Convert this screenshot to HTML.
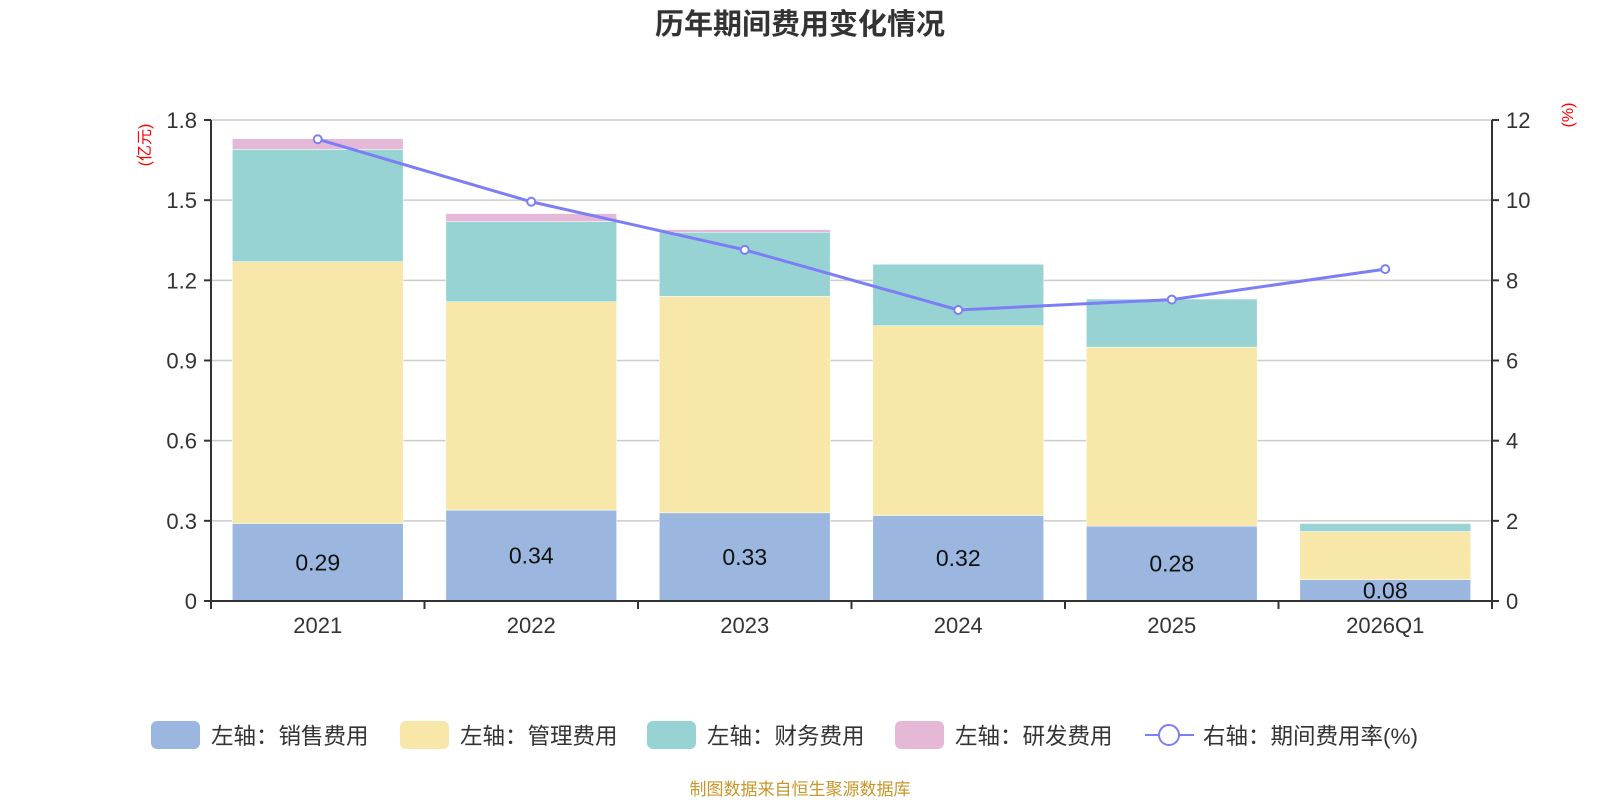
<!DOCTYPE html>
<html><head><meta charset="utf-8"><style>
body{margin:0;background:#fff}
svg{display:block;font-family:"Liberation Sans","Noto Sans CJK SC",sans-serif}
</style></head><body>
<svg id="c" width="1600" height="800" viewBox="0 0 1600 800">
<text x="800" y="34" text-anchor="middle" font-size="29" font-weight="bold" fill="#333">历年期间费用变化情况</text>
<g id="grid"></g><g id="bars"></g><g id="line"></g><g id="axes"></g>
<text transform="translate(150,145) rotate(-90)" text-anchor="middle" font-size="16" fill="red">(亿元)</text>
<text transform="translate(1573,115) rotate(-90)" text-anchor="middle" font-size="16" fill="red">(%)</text>
<g id="legend"></g>
<text x="800" y="795" text-anchor="middle" font-size="17" fill="#c8962a">制图数据来自恒生聚源数据库</text>
</svg>
<script>
const categories=["2021","2022","2023","2024","2025","2026Q1"];
const sales=[0.29,0.34,0.33,0.32,0.28,0.08];
const mgmt=[0.98,0.78,0.81,0.71,0.67,0.18];
const fin=[0.42,0.30,0.24,0.23,0.18,0.03];
const rd=[0.04,0.03,0.01,0,0,0];
const rate=[11.52,9.96,8.76,7.26,7.52,8.28];
const leftTicks=["0","0.3","0.6","0.9","1.2","1.5","1.8"];
const rightTicks=["0","2","4","6","8","10","12"];
const seriesNames=["左轴：销售费用","左轴：管理费用","左轴：财务费用","左轴：研发费用","右轴：期间费用率(%)"];
const NS="http://www.w3.org/2000/svg";
const X0=211,X1=1492,Y0=601,Y1=120;
const bw=(X1-X0)/categories.length;
const yL=v=>Y0-(v/1.8)*(Y0-Y1);
const yR=v=>Y0-(v/12)*(Y0-Y1);
const xc=i=>X0+bw*(i+0.5);
function mk(t,a,p){const e=document.createElementNS(NS,t);for(const k in a)e.setAttribute(k,a[k]);p.appendChild(e);return e;}
const G=id=>document.getElementById(id);
leftTicks.forEach((t,i)=>{const v=+t,y=yL(v);
 if(i>0){const l=mk("line",{x1:X0,x2:X1,y1:y,y2:y,stroke:"#ccc","stroke-width":1.5},G("grid"));
 
 }
 mk("line",{x1:X0-7,x2:X0,y1:y,y2:y,stroke:"#333","stroke-width":2},G("axes"));
 const tx=mk("text",{x:X0-14,y:y+8,"text-anchor":"end","font-size":22,fill:"#333"},G("axes"));tx.textContent=t;
 
 });
rightTicks.forEach(t=>{const y=yR(+t);
 mk("line",{x1:X1,x2:X1+7,y1:y,y2:y,stroke:"#333","stroke-width":2},G("axes"));
 const tx=mk("text",{x:X1+14,y:y+8,"font-size":22,fill:"#333"},G("axes"));tx.textContent=t;
 
 });
mk("line",{x1:X0,x2:X0,y1:Y1,y2:Y0,stroke:"#333","stroke-width":2},G("axes"));
mk("line",{x1:X1,x2:X1,y1:Y1,y2:Y0,stroke:"#333","stroke-width":2},G("axes"));
mk("line",{x1:X0,x2:X1,y1:Y0,y2:Y0,stroke:"#333","stroke-width":2},G("axes"));
for(let i=0;i<=categories.length;i++){const x=X0+bw*i;mk("line",{x1:x,x2:x,y1:Y0,y2:Y0+8,stroke:"#333","stroke-width":2},G("axes"));}
categories.forEach((c,i)=>{const tx=mk("text",{x:xc(i),y:Y0+32,"text-anchor":"middle","font-size":22,fill:"#333"},G("axes"));tx.textContent=c;
 
 });
const colors=["#9bb7e0","#f7e7a8","#98d3d4","#e6b8d8"];
const series=[sales,mgmt,fin,rd];
categories.forEach((c,i)=>{let base=0;const w=bw*0.8;
 series.forEach((s,k)=>{const v=s[i];if(v<=0)return;
  const r=mk("rect",{x:xc(i)-w/2,y:yL(base+v),width:w,height:yL(base)-yL(base+v),fill:colors[k],stroke:"#fff","stroke-width":0.5},G("bars"));
  
  
  base+=v;});
 const tx=mk("text",{x:xc(i),y:(yL(0)+yL(sales[i]))/2+8,"text-anchor":"middle","font-size":23,fill:"#111"},G("bars"));tx.textContent=sales[i].toFixed(2);
 
 });
const pl=mk("polyline",{points:rate.map((v,i)=>xc(i)+","+yR(v)).join(" "),fill:"none",stroke:"#7b7ef5","stroke-width":3},G("line"));


rate.forEach((v,i)=>{const p=mk("circle",{cx:xc(i),cy:yR(v),r:4,fill:"#fff",stroke:"#7b7ef5","stroke-width":2},G("line"));
 
 });
const lx=[151,400,647,895,1145];
seriesNames.forEach((n,k)=>{const g=mk("g",{},G("legend"));
 
 
 let tx0;
 if(k<4){mk("rect",{x:lx[k],y:721,width:49,height:28,rx:6,fill:colors[k]},g);tx0=lx[k]+60;}
 else{mk("line",{x1:lx[k],x2:lx[k]+49,y1:735,y2:735,stroke:"#7b7ef5","stroke-width":2},g);
  mk("circle",{cx:lx[k]+24,cy:735,r:10,fill:"#fff",stroke:"#7b7ef5","stroke-width":2},g);tx0=lx[k]+58;}
 const t=mk("text",{x:tx0,y:744,"font-size":22.5,fill:"#333"},g);t.textContent=n;});
</script>
</body></html>
